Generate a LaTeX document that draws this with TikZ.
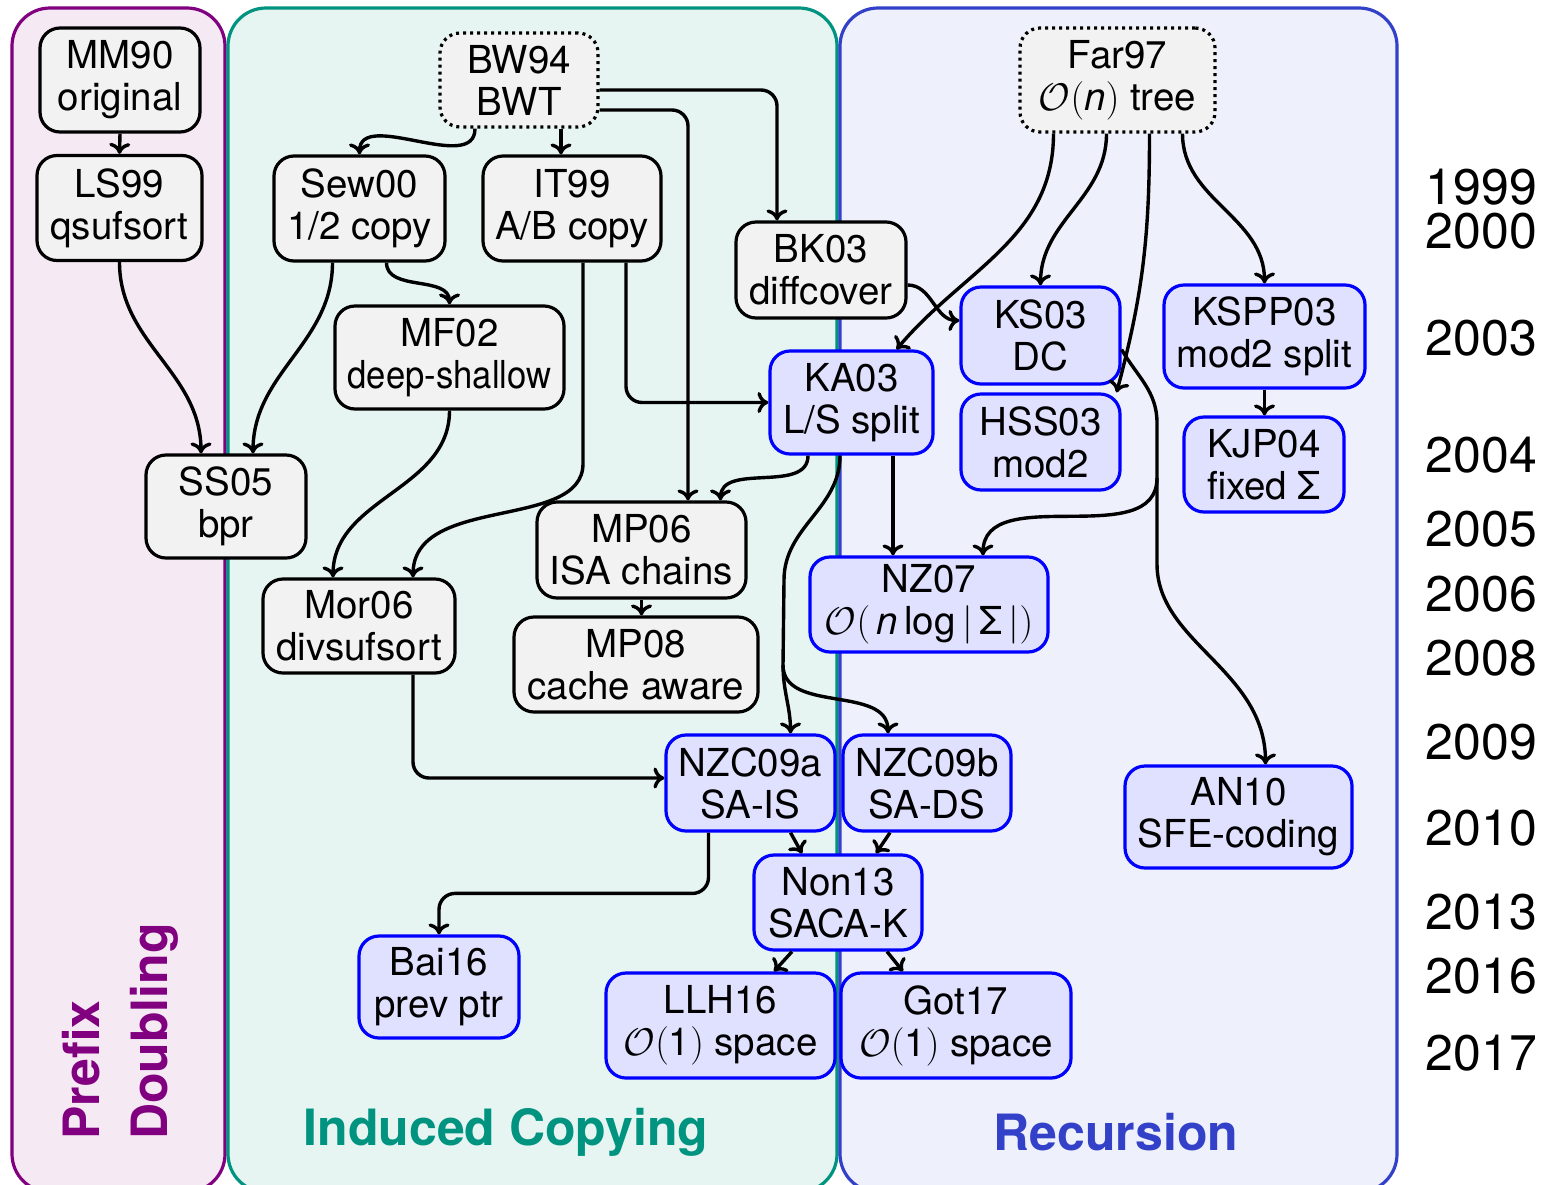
\documentclass[tikz,border=0pt]{standalone}
\usepackage{fix-cm}
\usepackage{fontspec}
\setmainfont{TeX Gyre Heros}
\usetikzlibrary{arrows.meta,calc}
\definecolor{pdpurple}{HTML}{800080}
\definecolor{pdfill}{HTML}{F5E9F3}
\definecolor{icteal}{HTML}{00937F}
\definecolor{icfill}{HTML}{E6F5F2}
\definecolor{recblue}{HTML}{3340C8}
\definecolor{recfill}{HTML}{EEF0FB}
\definecolor{nodegray}{HTML}{F2F2F2}
\definecolor{nodeblue}{HTML}{E0E0FF}
\definecolor{nodeblueb}{HTML}{0000FF}
\begin{document}
\begin{tikzpicture}[x=1pt,y=1pt,
  box/.style={rounded corners=20pt, line width=3.2pt, align=center, inner xsep=6pt, inner ysep=6pt, font=\fontsize{38.5}{42}\selectfont},
  gbox/.style={box, fill=nodegray, draw=black},
  bbox/.style={box, fill=nodeblue, draw=nodeblueb},
  dbox/.style={gbox, dash pattern=on 3pt off 4pt},
  arr/.style={line width=3.4pt, -{To[length=11pt,width=21pt]}, rounded corners=16pt},
  plainline/.style={line width=3.4pt},
  year/.style={anchor=base east, inner sep=0pt, font=\fontsize{50}{60}\selectfont},
  panel/.style={line width=3.2pt, rounded corners=38pt},
  biglabel/.style={inner sep=0pt, font=\fontsize{50}{68}\selectfont\bfseries},
]
\useasboundingbox (0,0) rectangle (1546,-1184);
% panels
\draw[panel, draw=pdpurple, fill=pdfill] (12,-8) rectangle (225,-1192);
\draw[panel, draw=icteal, fill=icfill] (228,-8) rectangle (837,-1192);
\draw[panel, draw=recblue, fill=recfill] (840,-8) rectangle (1397,-1192);
% labels
\node[biglabel, text=pdpurple, rotate=90, anchor=west, align=left] (lblPD) at (120,-1140) {Prefix\\Doubling};
\node[biglabel, text=icteal, anchor=base] (lblIC) at (506,-1145) {Induced Copying};
\node[biglabel, text=recblue, anchor=base] (lblR) at (1116,-1150) {Recursion};
% years
\node[year] (y1999) at (1537,-204) {1999};
\node[year] (y2000) at (1537,-248) {2000};
\node[year] (y2003) at (1537,-355) {2003};
\node[year] (y2004) at (1537,-472) {2004};
\node[year] (y2005) at (1537,-546) {2005};
\node[year] (y2006) at (1537,-611) {2006};
\node[year] (y2008) at (1537,-675) {2008};
\node[year] (y2009) at (1537,-759) {2009};
\node[year] (y2010) at (1537,-845) {2010};
\node[year] (y2013) at (1537,-929) {2013};
\node[year] (y2016) at (1537,-993) {2016};
\node[year] (y2017) at (1537,-1070) {2017};
% nodes
\node[gbox, minimum width=160, minimum height=104] (MM90) at (120,-80) {MM90\\original};
\node[gbox, minimum width=165, minimum height=105] (LS99) at (119.5,-208) {LS99\\qsufsort};
\node[dbox, minimum width=158, minimum height=94] (BW94) at (519,-80) {BW94\\BWT};
\node[gbox, minimum width=171, minimum height=105] (Sew00) at (359.5,-208.5) {Sew00\\1/2 copy};
\node[gbox, minimum width=178, minimum height=105] (IT99) at (572,-208.5) {IT99\\A/B copy};
\node[gbox, minimum width=229, minimum height=103] (MF02) at (449.5,-357.5) {MF02\\\scalebox{0.9}[1]{deep-shallow}};
\node[gbox, minimum width=170, minimum height=96] (BK03) at (821,-270) {BK03\\diffcover};
\node[dbox, minimum width=195, minimum height=104] (Far97) at (1117.5,-80) {Far97\\$\mathcal{O}($\textit{n}$)$ tree};
\node[bbox, minimum width=159, minimum height=97] (KS03) at (1040.5,-335.5) {KS03\\DC};
\node[bbox, minimum width=159, minimum height=96] (HSS03) at (1040.5,-442) {HSS03\\mod2};
\node[bbox, minimum width=201, minimum height=103] (KSPP03) at (1264.5,-336.5) {KSPP03\\mod2 split};
\node[bbox, minimum width=160, minimum height=95] (KJP04) at (1264,-464.5) {KJP04\\fixed Σ};
\node[bbox, minimum width=163, minimum height=103] (KA03) at (851.5,-402.5) {KA03\\L/S split};
\node[gbox, minimum width=160, minimum height=103] (SS05) at (226,-506.5) {SS05\\bpr};
\node[gbox, minimum width=209, minimum height=96] (MP06) at (641.5,-550) {MP06\\ISA chains};
\node[gbox, minimum width=244, minimum height=95] (MP08) at (636,-664.5) {MP08\\cache aware};
\node[gbox, minimum width=192, minimum height=94] (Mor06) at (359,-626) {Mor06\\divsufsort};
\node[bbox, minimum width=238, minimum height=95] (NZ07) at (929,-604.5) {NZ07\\$\mathcal{O}(\,$\textit{n}\,log\,$|\,$Σ$\,|)$};
\node[bbox, minimum width=169, minimum height=96] (NZC09a) at (750.5,-783) {NZC09a\\SA-IS};
\node[bbox, minimum width=168, minimum height=96] (NZC09b) at (927,-783) {NZC09b\\SA-DS};
\node[bbox, minimum width=227, minimum height=102] (AN10) at (1238.5,-817) {AN10\\SFE-coding};
\node[bbox, minimum width=168, minimum height=95] (Non13) at (838,-902.5) {Non13\\SACA-K};
\node[bbox, minimum width=160, minimum height=102] (Bai16) at (439,-987) {Bai16\\prev ptr};
\node[bbox, minimum width=229, minimum height=105] (LLH16) at (720.5,-1025.5) {LLH16\\$\mathcal{O}($1$)$ space};
\node[bbox, minimum width=230, minimum height=105] (Got17) at (956,-1025.5) {Got17\\$\mathcal{O}($1$)$ space};
% fork points
\coordinate (ksfork) at (1157,-478);
\coordinate (kafork) at (783,-665);
% edges
\draw[arr] (MM90.south) -- (LS99.north);
\draw[arr] (LS99.south) to[out=-90,in=90] ([xshift=-25]SS05.north);
\draw[arr] ([xshift=-27]Sew00.south) to[out=-90,in=90] ([xshift=27]SS05.north);
\draw[arr] ([xshift=27]Sew00.south) to[out=-90,in=90] (MF02.north);
\draw[arr] ([xshift=-44]BW94.south) to[out=-90,in=90] (Sew00.north);
\draw[arr] ([xshift=42]BW94.south) -- ([xshift=42]BW94.south |- IT99.north);
\draw[arr] ([yshift=-10]BW94.east) -| ([xshift=-44]BK03.north);
\draw[arr] ([yshift=-30]BW94.east) -| ([xshift=46.5]MP06.north);
\draw[arr] ([xshift=11]IT99.south) -- ++(0,-185) to[out=-90,in=90] ([xshift=54]Mor06.north);
\draw[arr] ([xshift=54]IT99.south) |- (KA03.west);
\draw[arr] (MF02.south) to[out=-90,in=90] ([xshift=-26]Mor06.north);
\draw[arr] ([yshift=-15]BK03.east) to[out=0,in=180] ([yshift=15]KS03.west);
\draw[arr] ([xshift=-64]Far97.south) to[out=-90,in=50] ([xshift=45]KA03.north);
\draw[arr] ([xshift=-11]Far97.south) to[out=-90,in=90] (KS03.north);
\draw[arr] ([xshift=32]Far97.south) to[out=-90,in=75] ([xshift=-5]HSS03.north east);
\draw[arr] ([xshift=65]Far97.south) to[out=-90,in=90] (KSPP03.north);
\draw[arr] (KSPP03.south) -- (KSPP03.south |- KJP04.north);
\draw[plainline] ([yshift=-14]KS03.east) to[out=-60,in=90] ($(ksfork)+(0,55)$) -- (ksfork);
\draw[arr] (ksfork) to[out=-90,in=90] ([xshift=54]NZ07.north);
\draw[arr] (ksfork) -- ++(0,-70) to[out=-90,in=90] ([xshift=27]AN10.north);
\draw[arr] ([xshift=41.5]KA03.south) -- ([xshift=41.5]KA03.south |- NZ07.north);
\draw[arr] ([xshift=-43.5]KA03.south) to[out=-90,in=90] ([xshift=79]MP06.north);
\draw[plainline] ([xshift=-11.5]KA03.south) to[out=-90,in=90] ($(kafork)+(1,85)$) -- (kafork);
\draw[arr] (kafork) to[out=-90,in=90] ([xshift=40]NZC09a.north);
\draw[arr] (kafork) to[out=-90,in=90] ([xshift=-39]NZC09b.north);
\draw[arr] (MP06.south) -- (MP06.south |- MP08.north);
\draw[arr] ([xshift=54]Mor06.south) |- ([yshift=5]NZC09a.west);
\draw[arr] ([xshift=40]NZC09a.south) -- ([xshift=-36]Non13.north);
\draw[arr] ([xshift=-37]NZC09b.south) -- ([xshift=38]Non13.north);
\draw[arr] ([xshift=-46]Non13.south) -- ([xshift=53.5]LLH16.north);
\draw[arr] ([xshift=49]Non13.south) -- ([xshift=-53]Got17.north);
\draw[arr] ([xshift=-42]NZC09a.south) |- ([yshift=41]Bai16.north) -- (Bai16.north);
\end{tikzpicture}
\end{document}
